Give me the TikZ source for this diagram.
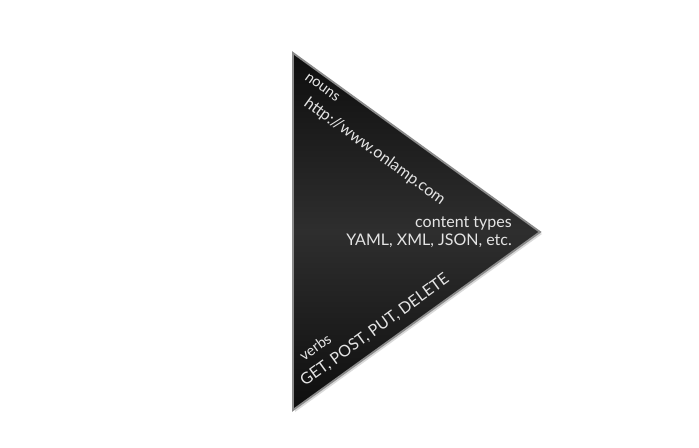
\documentclass[tikz,border=0pt]{standalone}
\usepackage{fontspec}
\setmainfont{Lato}
\usetikzlibrary{shadows}
\definecolor{triink}{HTML}{0E0E0E}
\definecolor{trimid}{HTML}{2E2E2E}
\definecolor{triedge}{HTML}{8A8A8A}
\definecolor{labtext}{HTML}{E4E4E4}

\begin{document}
\begin{tikzpicture}[x=0.75pt,y=0.75pt,
  tri/.style={draw=triedge,line width=1.4pt,line join=miter,top color=triink,bottom color=triink,middle color=trimid,
    drop shadow={opacity=0.3,shadow xshift=1.5pt,shadow yshift=-1.5pt}},
  lab/.style={font=\fontsize{12}{14}\selectfont,text=labtext,inner sep=0pt},
  small/.style={font=\fontsize{11}{13}\selectfont},
  upper/.style={lab,anchor=base west,rotate=-36},
  lower/.style={lab,anchor=base west,rotate=36}]
\useasboundingbox (0,0) rectangle (699,447);
\coordinate (top) at (293,394);
\coordinate (bot) at (293,37);
\coordinate (tip) at (540,215);
\path[tri] (top) -- (tip) -- (bot) -- cycle;
% nouns along the upper edge
\node[upper,small] (nouns) at (304,368) {nouns};
\node[upper] (url) at (303,342) {http://www.onlamp.com};
% content types near the tip
\node[lab,anchor=base east] (ctypes) at (512,220) {content types};
\node[lab,anchor=base east] (formats) at (512,202) {YAML, XML, JSON, etc.};
% verbs along the lower edge
\node[lower,small] (verbs) at (304,85) {verbs};
\node[lower] (methods) at (305,60) {GET, POST, PUT, DELETE};
\end{tikzpicture}
\end{document}
